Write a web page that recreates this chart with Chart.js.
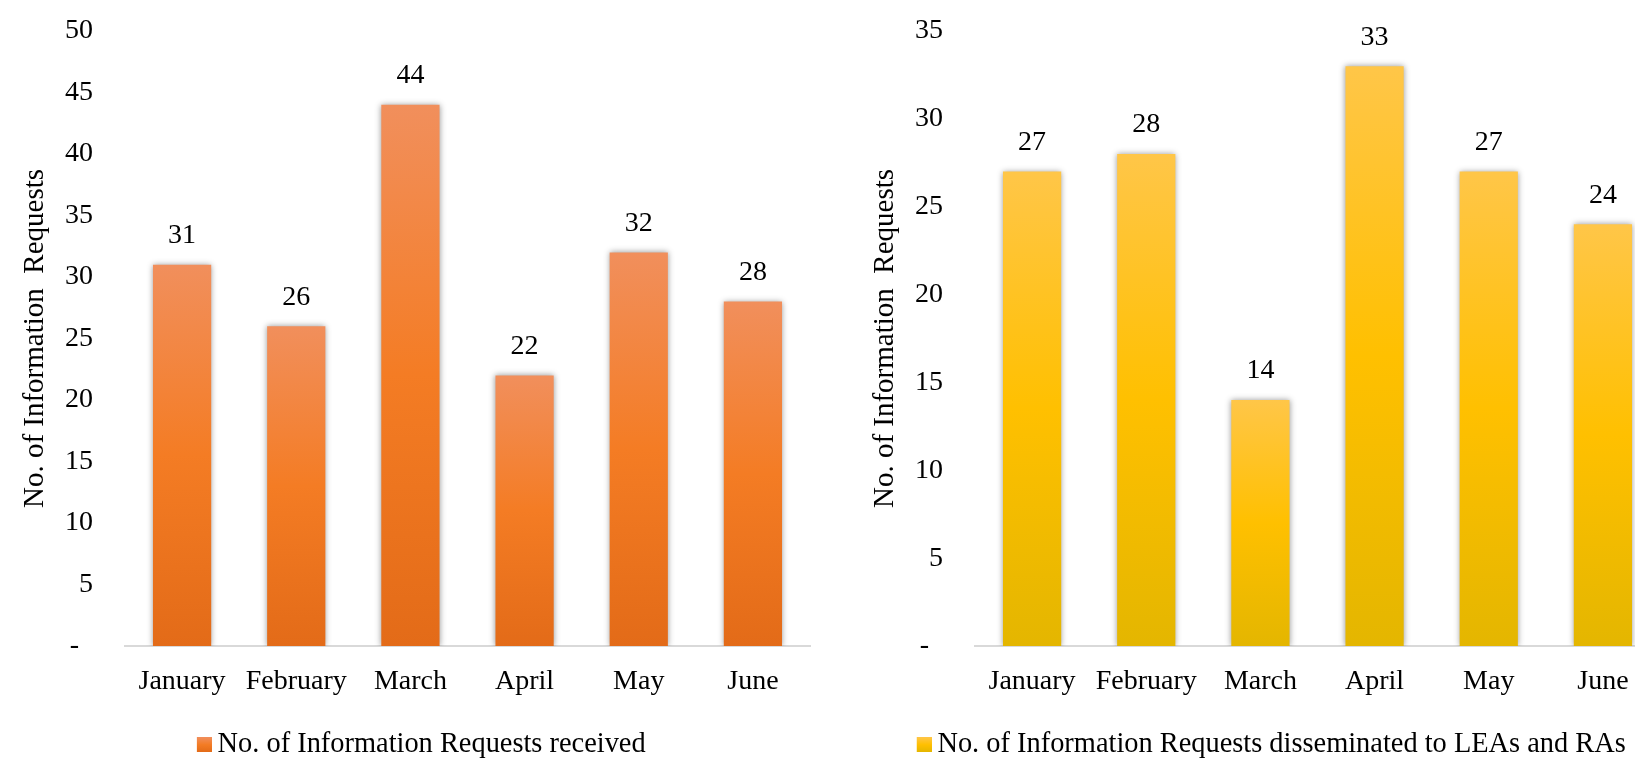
<!DOCTYPE html>
<html>
<head>
<meta charset="utf-8">
<script src="https://cdn.jsdelivr.net/npm/chart.js@4/dist/chart.umd.min.js"></script>
<style>
  html, body { margin: 0; padding: 0; background: #fff; overflow: hidden; }
  body { width: 1635px; height: 762px; position: relative; }
  .box { position: absolute; top: 0; width: 840px; height: 762px; }
  #left { left: 0; }
  #right { left: 850px; }
</style>
</head>
<body>
<div class="box" id="left"><canvas id="received"></canvas></div>
<div class="box" id="right"><canvas id="disseminated"></canvas></div>
<script>
"use strict";

const months = ["January", "February", "March", "April", "May", "June"];
const receivedValues = [31, 26, 44, 22, 32, 28];
const disseminatedValues = [27, 28, 14, 33, 27, 24];
const receivedMax = 50;
const disseminatedMax = 35;
const tickStep = 5;

const FONT = "'Liberation Serif', 'Times New Roman', serif";
const orangeStops = ["rgb(241,143,92)", "rgb(244,124,36)", "rgb(227,107,24)"];
const goldStops = ["rgb(255,198,72)", "rgb(255,192,0)", "rgb(228,182,0)"];

function barGradient(stops) {
  return function (context) {
    const chart = context.chart;
    if (!chart.chartArea || context.type !== "data") return stops[1];
    const y = chart.scales.y;
    const top = y.getPixelForValue(context.raw);
    const bottom = y.getPixelForValue(0);
    const g = chart.ctx.createLinearGradient(0, top, 0, bottom);
    g.addColorStop(0, stops[0]);
    g.addColorStop(0.5, stops[1]);
    g.addColorStop(1, stops[2]);
    return g;
  };
}

// legend square, drawn on the right part of a small canvas so it sits close to the text
function legendSwatch(stops) {
  const c = document.createElement("canvas");
  c.width = 18;
  c.height = 15;
  const x = c.getContext("2d");
  const g = x.createLinearGradient(0, 0, 0, 15);
  g.addColorStop(0, stops[0]);
  g.addColorStop(0.5, stops[1]);
  g.addColorStop(1, stops[2]);
  x.fillStyle = g;
  x.fillRect(3, 0, 15, 15);
  return c;
}

const barShadow = {
  id: "barShadow",
  beforeDatasetDraw(chart) {
    const ctx = chart.ctx;
    ctx.save();
    ctx.shadowColor = "rgba(0,0,0,0.4)";
    ctx.shadowBlur = 6;
    ctx.shadowOffsetX = 0;
    ctx.shadowOffsetY = 0;
  },
  afterDatasetDraw(chart) {
    chart.ctx.restore();
  },
};

const valueLabels = {
  id: "valueLabels",
  afterDatasetsDraw(chart) {
    const ctx = chart.ctx;
    const meta = chart.getDatasetMeta(0);
    const data = chart.data.datasets[0].data;
    ctx.save();
    ctx.font = "28px " + FONT;
    ctx.fillStyle = "#000";
    ctx.textAlign = "center";
    ctx.textBaseline = "middle";
    meta.data.forEach((bar, i) => {
      ctx.fillText(String(data[i]), bar.x, bar.y - 29);
    });
    ctx.restore();
  },
};

function makeChart(id, label, values, max, stops) {
  const swatch = legendSwatch(stops);
  return new Chart(document.getElementById(id).getContext("2d"), {
    type: "bar",
    data: {
      labels: months,
      datasets: [
        {
          label: label,
          data: values,
          backgroundColor: barGradient(stops),
          borderWidth: 0,
          barPercentage: 0.51,
          categoryPercentage: 1,
        },
      ],
    },
    plugins: [barShadow, valueLabels],
    options: {
      responsive: true,
      maintainAspectRatio: false,
      animation: false,
      layout: { padding: { top: 31, right: 30, bottom: -7, left: 38 } },
      plugins: {
        legend: {
          position: "bottom",
          labels: {
            usePointStyle: true,
            boxWidth: 1,
            padding: 13,
            color: "#000",
            font: { family: FONT, size: 28.4 },
            generateLabels(chart) {
              return [
                {
                  text: chart.data.datasets[0].label,
                  pointStyle: swatch,
                  fillStyle: stops[1],
                  strokeStyle: "transparent",
                  lineWidth: 0,
                  datasetIndex: 0,
                },
              ];
            },
          },
        },
        tooltip: { enabled: false },
      },
      scales: {
        x: {
          grid: { display: false, drawTicks: false },
          border: { display: true, color: "#d9d9d9", width: 2 },
          ticks: {
            padding: 19,
            color: "#000",
            font: { family: FONT, size: 28 },
          },
        },
        y: {
          min: 0,
          max: max,
          grid: { display: false, drawTicks: false },
          border: { display: false },
          afterFit(scale) {
            scale.width = 87;
            scale.paddingTop = 0;
            scale.paddingBottom = 0;
          },
          ticks: {
            stepSize: tickStep,
            padding: 32,
            color: "#000",
            font: { family: FONT, size: 28 },
            callback: (v) => (v === 0 ? "-  " : v),
          },
          title: {
            display: true,
            text: "No. of Information  Requests",
            color: "#000",
            padding: { top: -20.4, bottom: 0 },
            font: { family: FONT, size: 29 },
          },
        },
      },
    },
  });
}

makeChart("received", "No. of Information Requests received", receivedValues, receivedMax, orangeStops);
makeChart("disseminated", "No. of Information Requests disseminated to LEAs and RAs", disseminatedValues, disseminatedMax, goldStops);
</script>
</body>
</html>
